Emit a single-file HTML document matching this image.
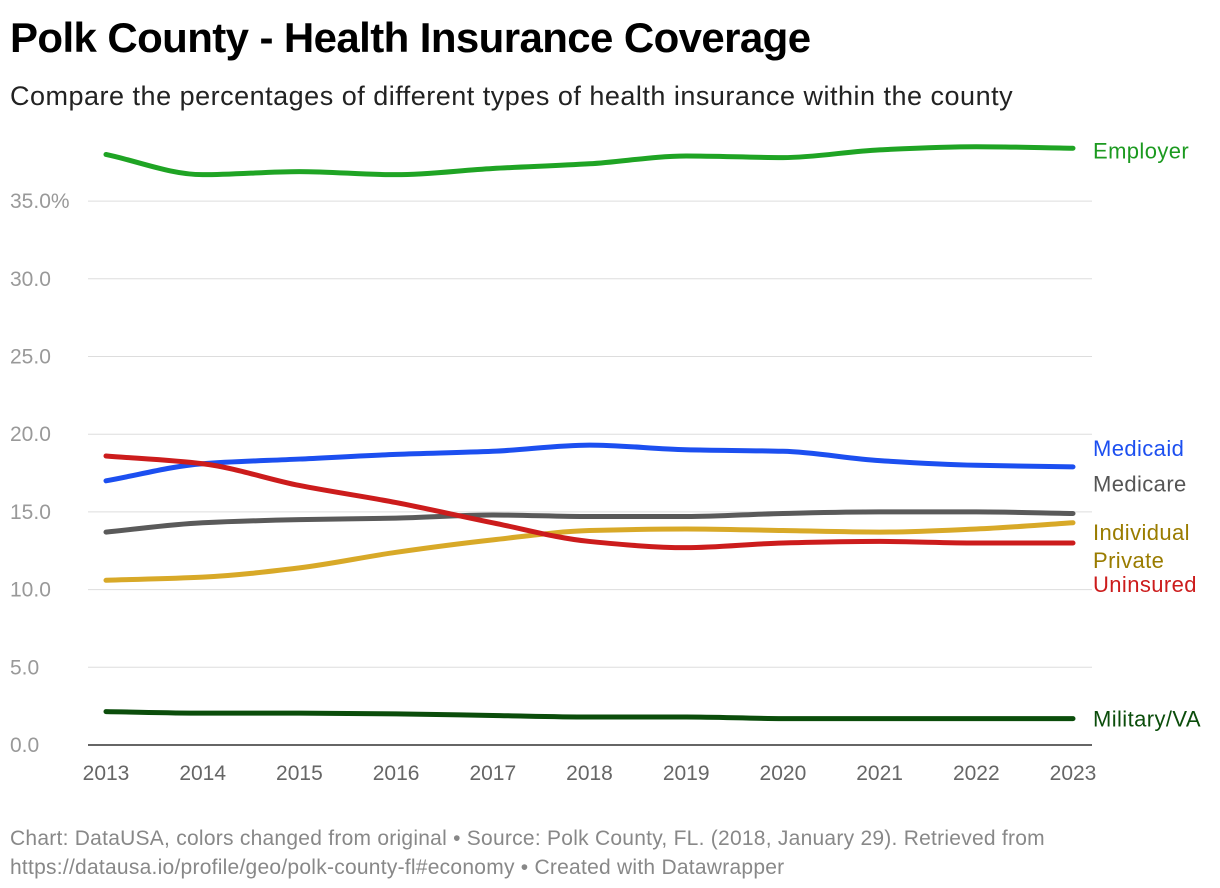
<!DOCTYPE html>
<html><head><meta charset="utf-8"><style>
body{margin:0;background:#fff;width:1220px;height:888px;overflow:hidden;font-family:"Liberation Sans",Arial,sans-serif}
#title{position:absolute;left:10px;top:14px;font-size:42px;font-weight:bold;color:#000;letter-spacing:-0.6px}
#sub{position:absolute;left:10px;top:81px;font-size:27px;color:#222;letter-spacing:0.5px}
#foot{position:absolute;left:10px;top:824px;font-size:21px;color:#888;line-height:29px;letter-spacing:0.25px}
svg{position:absolute;left:0;top:0}
</style></head><body>
<div id="title">Polk County - Health Insurance Coverage</div>
<div id="sub">Compare the percentages of different types of health insurance within the county</div>
<svg id="chart" width="1220" height="888"></svg>
<div id="foot">Chart: DataUSA, colors changed from original • Source: Polk County, FL. (2018, January 29). Retrieved from<br>https://datausa.io/profile/geo/polk-county-fl#economy • Created with Datawrapper</div>
<script>
const years=[2013,2014,2015,2016,2017,2018,2019,2020,2021,2022,2023];
const yTicks=[0,5,10,15,20,25,30,35];
const yTickLabels=["0.0","5.0","10.0","15.0","20.0","25.0","30.0","35.0%"];
const employer=[38.0,36.7,36.9,36.7,37.1,37.4,37.9,37.8,38.3,38.5,38.4];
const medicaid=[17.0,18.1,18.4,18.7,18.9,19.3,19.0,18.9,18.3,18.0,17.9];
const medicare=[13.7,14.3,14.5,14.6,14.8,14.7,14.7,14.9,15.0,15.0,14.9];
const individual=[10.6,10.8,11.4,12.4,13.2,13.8,13.9,13.8,13.7,13.9,14.3];
const uninsured=[18.6,18.1,16.7,15.6,14.3,13.1,12.7,13.0,13.1,13.0,13.0];
const military=[2.15,2.05,2.05,2.0,1.9,1.8,1.8,1.7,1.7,1.7,1.7];
const seriesNames=["Employer","Medicaid","Medicare","Individual Private","Uninsured","Military/VA"];

const svg=document.getElementById('chart');const NS='http://www.w3.org/2000/svg';
const x=y=>106+(y-2013)*96.7;
const yS=v=>745-v*15.54;
function mk(t,a,txt){const e=document.createElementNS(NS,t);for(const k in a)e.setAttribute(k,a[k]);if(txt!=null)e.textContent=txt;svg.appendChild(e);return e;}
yTicks.forEach((t,i)=>{
 const g=mk('line',{x1:88,x2:1092,y1:yS(t),y2:yS(t),stroke:t===0?'#333':'#ddd','stroke-width':t===0?1.5:1});
 
 
 const l=mk('text',{x:10,y:yS(t)+7,'font-size':21,fill:'#999','font-family':'Liberation Sans, sans-serif'},yTickLabels[i]);
 
 
});
years.forEach(yr=>{
 const l=mk('text',{x:x(yr),y:780,'font-size':21,fill:'#666','text-anchor':'middle','font-family':'Liberation Sans, sans-serif'},String(yr));
 
 
});
function monoPath(pts){
 const n=pts.length,d=[],m=[];
 for(let i=0;i<n-1;i++)d.push((pts[i+1][1]-pts[i][1])/(pts[i+1][0]-pts[i][0]));
 m[0]=d[0];m[n-1]=d[n-2];
 for(let i=1;i<n-1;i++)m[i]=d[i-1]*d[i]<=0?0:(2*d[i-1]*d[i])/(d[i-1]+d[i]);
 let p=`M${pts[0][0]},${pts[0][1]}`;
 for(let i=0;i<n-1;i++){const h=(pts[i+1][0]-pts[i][0])/3;
  p+=`C${pts[i][0]+h},${pts[i][1]+m[i]*h} ${pts[i+1][0]-h},${pts[i+1][1]-m[i+1]*h} ${pts[i+1][0]},${pts[i+1][1]}`;}
 return p;
}
const series=[[employer,'#1fa424','series-employer'],[medicaid,'#1c4ff0','series-medicaid'],[medicare,'#5a5a5a','series-medicare'],[individual,'#d8a928','series-individual-private'],[uninsured,'#cc1c1c','series-uninsured'],[military,'#0b4d0b','series-military-va']];
series.forEach(([vals,c,n])=>{
 const p=mk('path',{d:monoPath(vals.map((v,i)=>[x(years[i]),yS(v)])),fill:'none',stroke:c,'stroke-width':5,'stroke-linecap':'round'});
 
 
});
const labs=[["Employer",employer,'#1c9a20',2],["Medicaid",medicaid,'#1c4ff0',-19],["Medicare",medicare,'#555',-30],["Individual",individual,'#9a7c00',9],["Private",individual,'#9a7c00',37],["Uninsured",uninsured,'#cc1c1c',41],["Military/VA",military,'#0b4d0b',0]];
labs.forEach(([t,v,c,dy])=>{
 const l=mk('text',{x:1093,y:yS(v[v.length-1])+8+dy,'font-size':22,fill:c,'letter-spacing':'0.4','font-family':'Liberation Sans, sans-serif'},t);
 
 
});
</script>
</body></html>
